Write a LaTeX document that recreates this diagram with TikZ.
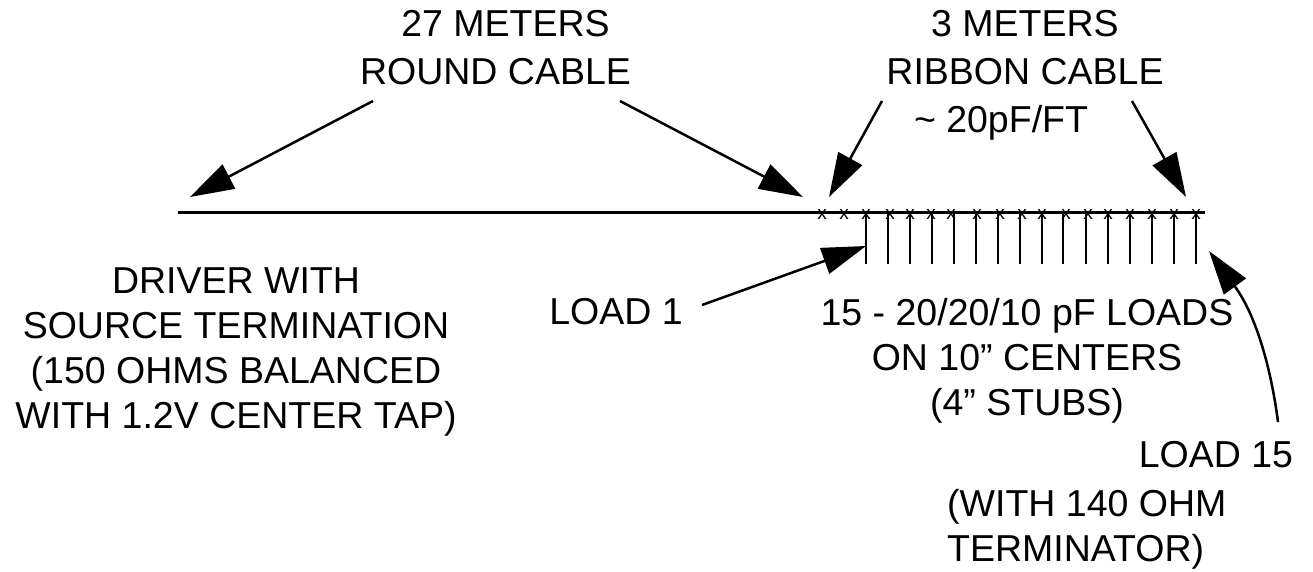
\documentclass[tikz,border=0pt]{standalone}
\usepackage{fontspec}
\setmainfont{Liberation Sans}
\usetikzlibrary{arrows.meta}
\tikzset{
 lbl/.style={inner sep=0pt,align=center,anchor=center},
 big/.style={font=\fontsize{37.5}{48}\selectfont},
 mid/.style={font=\fontsize{37.5}{45}\selectfont},
 conn/.style={line width=2.5pt,-{Triangle[length=44pt,width=27pt]}},
 bus/.style={line width=2.6pt},
 stub/.style={line width=2.2pt},
 xm/.style={inner sep=0pt,font=\fontsize{19}{19}\selectfont}
}
\begin{document}
\begin{tikzpicture}[x=1pt,y=-1pt]
\useasboundingbox (0,0) rectangle (1313,571);
\node[lbl,big] (t27) at (495.5,48) {\hspace*{20pt}27 METERS\\ROUND CABLE};
\node[lbl,big] (t3) at (1025,75.5) {3 METERS\\RIBBON CABLE\\\hspace*{-48pt}\textasciitilde{} 20pF/FT};
\node[lbl,mid] (drv) at (236,352) {DRIVER WITH\\SOURCE TERMINATION\\(150 OHMS BALANCED\\WITH 1.2V CENTER TAP)};
\node[lbl,mid] (l1) at (616,312) {LOAD 1};
\node[lbl,mid] (lds) at (1027,361) {15 - 20/20/10 pF LOADS\\ON 10”  CENTERS\\(4”  STUBS)};
\node[lbl,mid] (l15) at (1216,455) {LOAD 15};
\node[lbl,mid,align=left,anchor=west] (term) at (947,529) {(WITH 140 OHM\\TERMINATOR)};
\coordinate (a1s) at (373,101); \coordinate (a1e) at (190,197);
\coordinate (a2s) at (620,101); \coordinate (a2e) at (803,197);
\coordinate (a3s) at (882,101); \coordinate (a3e) at (829,197);
\coordinate (a4s) at (1132,101); \coordinate (a4e) at (1186,197);
\coordinate (a5s) at (702,305); \coordinate (a5e) at (866,246);
\coordinate (bl) at (178,212.7); \coordinate (br) at (1205,212.7);
\draw[bus] (bl) -- (br);
\foreach \i/\x in {1/866,2/888,3/910,4/932,5/954,6/976,7/998,8/1020,9/1042,10/1063,11/1086,12/1108,13/1130,14/1152,15/1174,16/1196}{
 \coordinate (st\i) at (\x,212.7); \coordinate (sb\i) at (\x,264);
 \draw[stub] (st\i) -- (sb\i);
}
\foreach \x in {822,844,866,890,910,931,951,977,1000,1022,1042,1066,1088,1108,1130,1152,1174,1196}
 \node[xm] at (\x,214) {x};
\draw[conn] (a1s) -- (a1e);
\draw[conn] (a2s) -- (a2e);
\draw[conn] (a3s) -- (a3e);
\draw[conn] (a4s) -- (a4e);
\draw[conn] (a5s) -- (a5e);
\coordinate (a6s) at (1278,422); \coordinate (a6e) at (1209,251);
\draw[conn] (a6s) .. controls (1272,375) and (1258,318) .. (a6e);
\end{tikzpicture}
\end{document}
